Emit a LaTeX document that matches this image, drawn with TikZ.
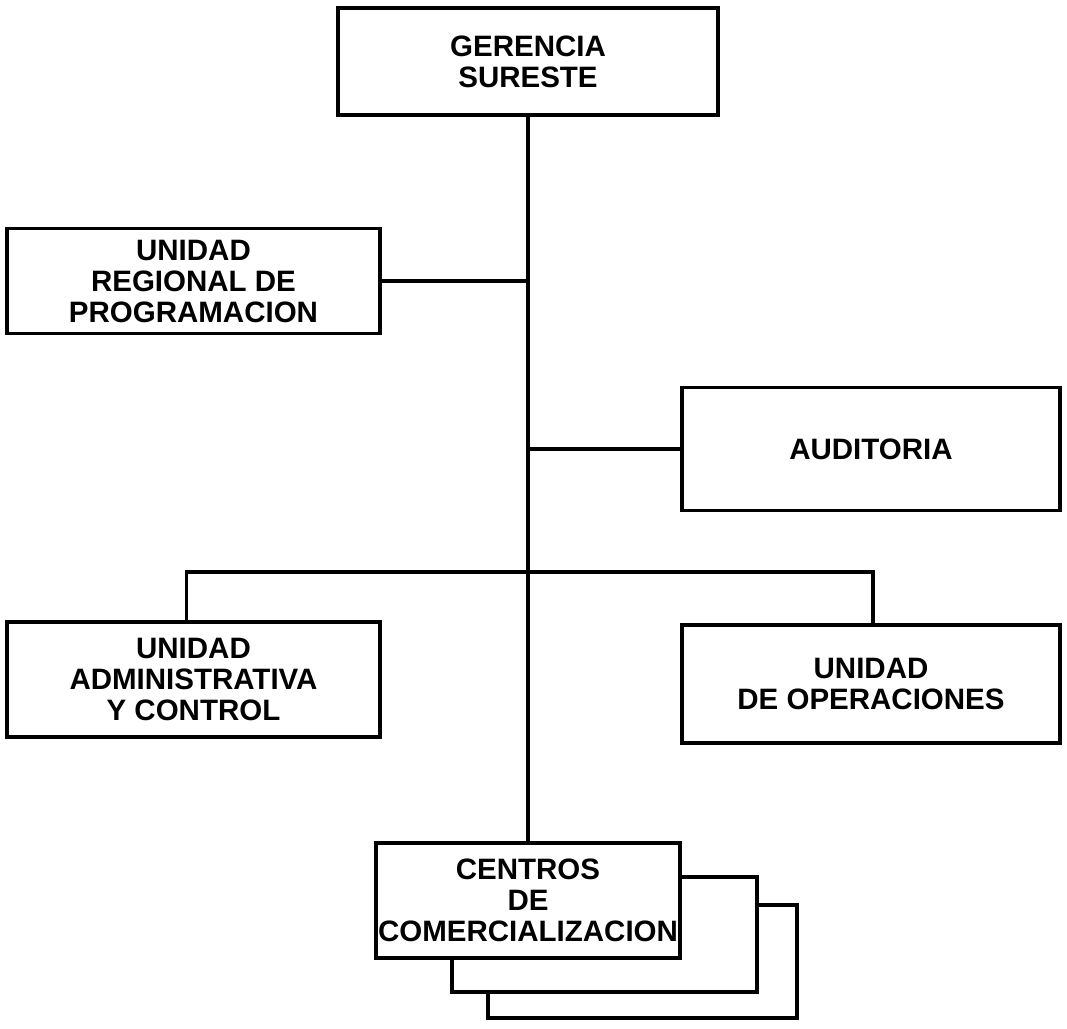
\documentclass[tikz,border=0pt]{standalone}
\usepackage{fontspec}
\setmainfont{Liberation Sans}
\begin{document}
\begin{tikzpicture}[x=1pt,y=-1pt,
  every node/.style={inner sep=0pt, outer sep=0pt},
  unitbox/.style={draw=black, line width=3.4pt, fill=white, align=center,
    font=\fontsize{29.5}{31}\selectfont\bfseries},
  link/.style={draw=black, line width=3.4pt}]
  % page frame
  \fill[white] (0,0) rectangle (1067,1028);
  \useasboundingbox (0,0) rectangle (1067,1028);

  % top management
  \node[unitbox, minimum width=380pt, minimum height=107pt] (ger) at (528,61.5)
    {GERENCIA\\SURESTE};

  % staff units
  \node[unitbox, minimum width=373pt, minimum height=105pt] (urp) at (193.5,281)
    {UNIDAD\\REGIONAL DE\\PROGRAMACION};
  \node[unitbox, minimum width=378pt, minimum height=123pt] (aud) at (871,449)
    {AUDITORIA};

  % line units
  \node[unitbox, minimum width=373pt, minimum height=115pt] (uac) at (193.5,679.5)
    {UNIDAD\\ADMINISTRATIVA\\Y CONTROL};
  \node[unitbox, minimum width=378pt, minimum height=118pt] (udo) at (871,684)
    {UNIDAD\\DE OPERACIONES};

  % stacked centres
  \node[unitbox, minimum width=309pt, minimum height=113pt] (cen3) at (642.5,961.5) {};
  \node[unitbox, minimum width=305pt, minimum height=115pt] (cen2) at (604.5,934.5) {};
  \node[unitbox, minimum width=304pt, minimum height=115pt] (cen) at (528,900.5)
    {CENTROS\\DE\\COMERCIALIZACION};

  % connectors
  \coordinate (bar) at (528,572);
  \draw[link] (ger.south) -- (cen.north);
  \draw[link] (urp.east) -- (urp.east -| ger.south);
  \draw[link] (aud.west -| ger.south) -- (aud.west);
  \draw[link] ([xshift=-7pt]uac.north) |- (bar) -| ([xshift=2pt]udo.north);
\end{tikzpicture}
\end{document}
